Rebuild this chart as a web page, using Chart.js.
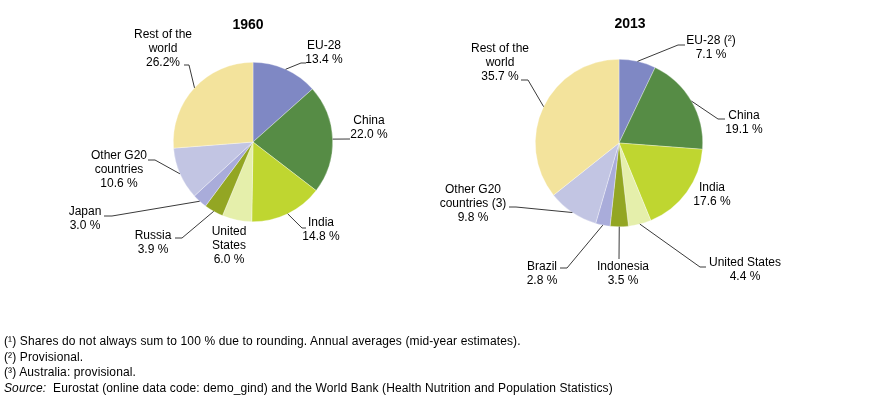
<!DOCTYPE html>
<html>
<head>
<meta charset="utf-8">
<script src="https://cdn.jsdelivr.net/npm/chart.js@4.4.1/dist/chart.umd.min.js"></script>
<style>
  html, body { margin:0; padding:0; background:#fff; }
  #wrap { position:relative; width:883px; height:397px; overflow:hidden; font-family:"Liberation Sans", Arial, sans-serif; color:#000; }
  canvas { position:absolute; left:0; top:0; }
  .title { position:absolute; font-weight:bold; font-size:14px; transform:translate(-50%,-50%); white-space:nowrap; }
  .notes { position:absolute; left:4px; top:334px; font-size:12px; line-height:15.7px; white-space:nowrap; letter-spacing:0.12px; }
</style>
</head>
<body>
<div id="wrap">
  <canvas id="c1" width="883" height="397"></canvas>
  <canvas id="c2" width="883" height="397"></canvas>
  <div class="title" style="left:248px;top:24px;">1960</div>
  <div class="title" style="left:630px;top:23px;">2013</div>
  <div class="notes">
    <div>(¹) Shares do not always sum to 100 % due to rounding. Annual averages (mid-year estimates).</div>
    <div>(²) Provisional.</div>
    <div>(³) Australia: provisional.</div>
    <div><i>Source:</i>&nbsp; Eurostat (online data code: demo_gind) and the World Bank (Health Nutrition and Population Statistics)</div>
  </div>
</div>
<script>
// ---- Data ----
const categories1960 = ["EU-28", "China", "India", "United States", "Russia", "Japan", "Other G20 countries", "Rest of the world"];
const values1960 = [13.4, 22.0, 14.8, 6.0, 3.9, 3.0, 10.6, 26.2];
const labels1960 = [["EU-28", "13.4 %"], ["China", "22.0 %"], ["India", "14.8 %"], ["United", "States", "6.0 %"], ["Russia", "3.9 %"], ["Japan", "3.0 %"], ["Other G20", "countries", "10.6 %"], ["Rest of the", "world", "26.2%"]];

const categories2013 = ["EU-28 (²)", "China", "India", "United States", "Indonesia", "Brazil", "Other G20 countries (3)", "Rest of the world"];
const values2013 = [7.1, 19.1, 17.6, 4.4, 3.5, 2.8, 9.8, 35.7];
const labels2013 = [["EU-28 (²)", "7.1 %"], ["China", "19.1 %"], ["India", "17.6 %"], ["United States", "4.4 %"], ["Indonesia", "3.5 %"], ["Brazil", "2.8 %"], ["Other G20", "countries (3)", "9.8 %"], ["Rest of the", "world", "35.7 %"]];

// ---- Styles ----
const colors1960 = ["#7f88c4", "#568c45", "#bfd630", "#e5efab", "#93a623", "#a9acda", "#c2c5e3", "#f3e39c"];
const colors2013 = ["#7f88c4", "#568c45", "#bfd630", "#e5efab", "#93a623", "#a9acda", "#c2c5e3", "#f3e39c"];

// label layout relative to pie centre: text centre of first line, leader path points after the arc point
const layout1960 = [
  { t: [71, -96], p: [[48, -79], [53, -79]] },
  { t: [116, -21], p: [[97, -3]] },
  { t: [68, 81], p: [[49, 86], [53, 86]] },
  { t: [-24, 90], p: null },
  { t: [-100, 94], p: [[-71, 96], [-78, 96]] },
  { t: [-168, 70], p: [[-141, 74], [-149, 74]] },
  { t: [-134, 14], p: [[-98, 18], [-105, 18]] },
  { t: [-90, -107], p: [[-64, -77], [-69, -77]] }
];
const layout2013 = [
  { t: [92, -102], p: [[59, -98], [66, -98]] },
  { t: [125, -27], p: [[99, -24], [106, -24]] },
  { t: [93, 45], p: null },
  { t: [126, 120], p: [[81, 124], [87, 124]] },
  { t: [4, 124], p: [[0, 116]] },
  { t: [-77, 124], p: [[-52, 125], [-59, 125]] },
  { t: [-146, 47], p: [[-103, 64], [-110, 64]] },
  { t: [-119, -94], p: [[-91, -63], [-98, -63]] }
];

const leaderPlugin = {
  id: 'leaders',
  afterDatasetsDraw(chart, args, opts) {
    const ctx = chart.ctx;
    const meta = chart.getDatasetMeta(0);
    const texts = opts.texts, lay = opts.layout;
    ctx.save();
    meta.data.forEach((arc, i) => {
      const cx = arc.x, cy = arc.y;
      const mid = (arc.startAngle + arc.endAngle) / 2;
      const r = arc.outerRadius;
      const L = lay[i];
      if (L.p) {
        ctx.beginPath();
        ctx.strokeStyle = '#3a3a3a';
        ctx.lineWidth = 1;
        ctx.moveTo(cx + Math.cos(mid) * r, cy + Math.sin(mid) * r);
        L.p.forEach(pt => ctx.lineTo(cx + pt[0], cy + pt[1]));
        ctx.stroke();
      }
      ctx.fillStyle = '#000';
      ctx.font = '12px "Liberation Sans", Arial, sans-serif';
      ctx.textAlign = 'center';
      ctx.textBaseline = 'middle';
      texts[i].forEach((line, k) => {
        ctx.fillText(line, cx + L.t[0], cy + L.t[1] + k * 14);
      });
    });
    ctx.restore();
  }
};

function makePie(id, cats, vals, cols, texts, lay, padding) {
  return new Chart(document.getElementById(id), {
    type: 'pie',
    data: {
      labels: cats,
      datasets: [{
        data: vals,
        backgroundColor: cols,
        borderColor: 'rgba(255,255,255,0.55)',
        borderWidth: 0.6
      }]
    },
    options: {
      responsive: false,
      animation: false,
      layout: { padding: padding },
      plugins: {
        legend: { display: false },
        tooltip: { enabled: false },
        leaders: { texts: texts, layout: lay }
      }
    },
    plugins: [leaderPlugin]
  });
}

makePie('c1', categories1960, values1960, colors1960, labels1960, layout1960, { left: 173, right: 550, top: 62, bottom: 175 });
makePie('c2', categories2013, values2013, colors2013, labels2013, layout2013, { left: 535, right: 180, top: 59, bottom: 170 });
</script>
</body>
</html>
